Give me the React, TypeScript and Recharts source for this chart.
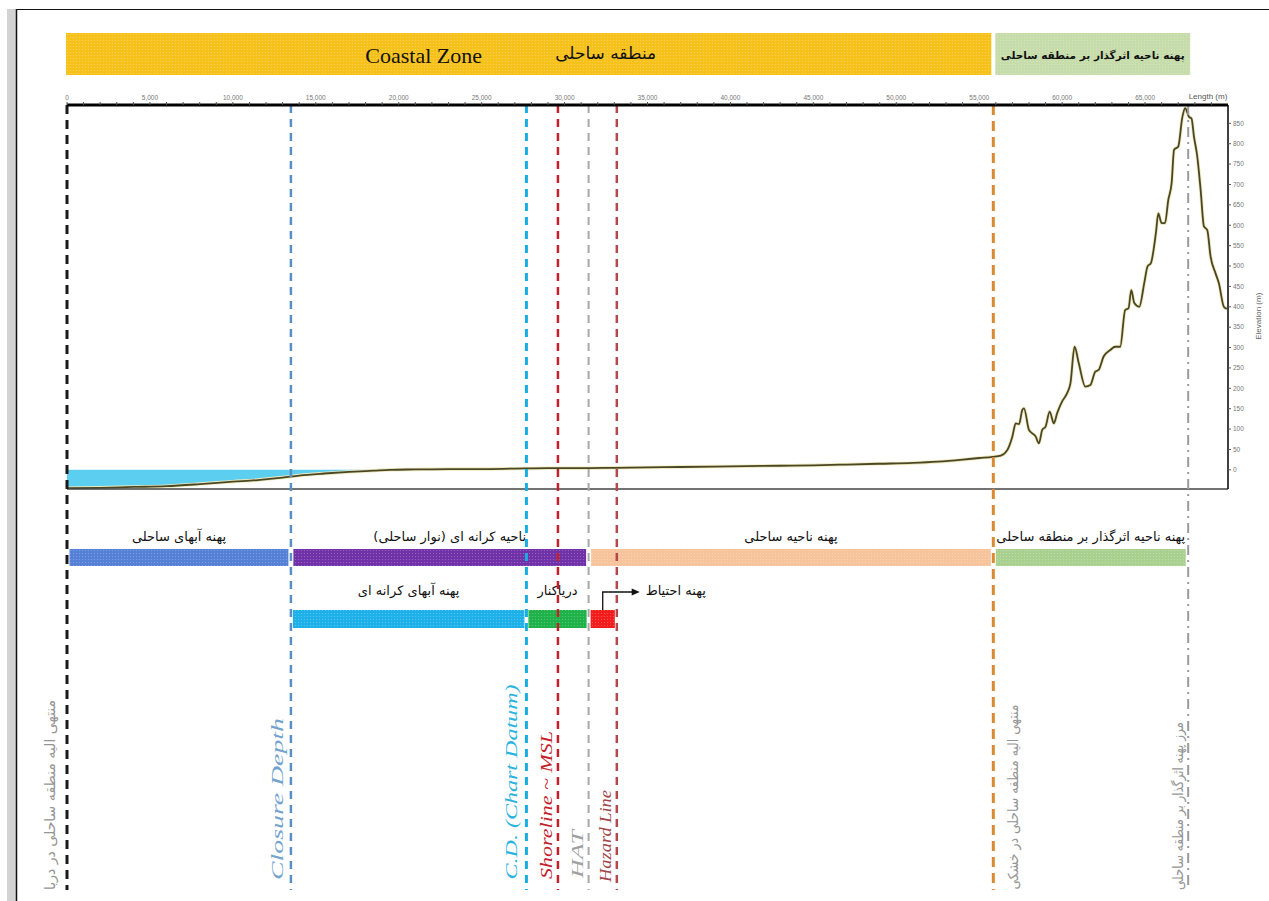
import React from 'react';
import {
  ComposedChart, Line, Area, XAxis, YAxis, ReferenceLine, ReferenceArea, Label,
} from 'recharts';

const WIDTH = 1269;
const HEIGHT = 901;
const Y_MIN = -47;
const Y_MAX = 895;
const MARK_BOTTOM = 890; // the boundary lines run down below the profile

// transect profile: distance from the seaward limit (m) and elevation (m)
const distance = [
  0, 2000, 4000, 6000, 8000, 10000, 11500, 13000, 14000, 15500, 17000, 18500, 19500,
  21000, 23000, 25000, 27000, 29000, 31000, 33000, 35000, 37000, 39000, 41000, 43000,
  45000, 47000, 49000, 51000, 52500, 54000, 55000, 55800, 56300, 56700, 57000, 57200,
  57400, 57600, 57700, 58000, 58400, 58600, 58800, 59000, 59250, 59500, 59700, 60000,
  60300, 60500, 60750, 61000, 61400, 61700, 62000, 62200, 62500, 62900, 63200, 63500,
  63800, 64000, 64170, 64350, 64650, 64950, 65150, 65350, 65650, 65800, 66000, 66200,
  66400, 66600, 66750, 67000, 67250, 67420, 67650, 67800, 67950, 68150, 68350, 68550,
  68750, 68950, 69250, 69450, 69750, 69930,
];
const elevation = [
  -45, -44, -42, -40, -35, -29, -25, -19, -14, -9, -5, -2, 0,
  1, 2, 2, 3, 4, 4, 5, 6, 7, 8, 9, 10,
  11, 13, 15, 17, 20, 25, 29, 32, 35, 49, 82, 114,
  112, 147, 151, 98, 82, 65, 98, 106, 143, 114, 139, 168,
  188, 212, 302, 262, 204, 208, 241, 245, 278, 294, 302, 302,
  392, 396, 441, 409, 400, 458, 499, 507, 580, 629, 605, 605,
  662, 703, 785, 793, 866, 887, 866, 862, 817, 768, 687, 597,
  588, 523, 482, 458, 400, 395,
];

const majorTicks = [0, 5000, 10000, 15000, 20000, 25000, 30000, 35000, 40000, 45000, 50000, 55000, 60000, 65000];
const yTicks = [0, 50, 100, 150, 200, 250, 300, 350, 400, 450, 500, 550, 600, 650, 700, 750, 800, 850];

// boundaries along the transect (m)
const boundaryX = [0, 13500, 27700, 29600, 31450, 33150, 55850, 67600];
const boundaryLabels = [
  'منتهی الیه منطقه ساحلی در دریا',
  'Closure Depth',
  'C.D. (Chart Datum)',
  'Shoreline ~ MSL',
  'HAT',
  'Hazard Line',
  'منتهی الیه منطقه ساحلی در خشکی',
  'مرز پهنه اثرگذار بر منطقه ساحلی',
];

// header bands
const bandStart = [0, 55850];
const bandEnd = [55850, 67600];
const bandLabels = ['منطقه ساحلی', 'پهنه ناحیه اثرگذار بر منطقه ساحلی'];

// first row of zones
const zoneStart = [0, 13500, 31450, 55850];
const zoneEnd = [13500, 31450, 55850, 67600];
const zoneLabels = [
  'پهنه آبهای ساحلی',
  'ناحیه کرانه ای (نوار ساحلی)',
  'پهنه ناحیه ساحلی',
  'پهنه ناحیه اثرگذار بر منطقه ساحلی',
];

// second row of zones
const subStart = [13500, 27700, 31450];
const subEnd = [27700, 31450, 33150];
const subLabels = ['پهنه آبهای کرانه ای', 'دریاکنار', 'پهنه احتیاط'];

const PERSIAN = "'DejaVu Sans', sans-serif";
const SERIF = "'Liberation Serif', 'Times New Roman', serif";

const LINE_STYLES = [
  { stroke: '#1a1a1a', w: 3, dash: '9 6', color: '#959595', dx: -17, cy: 795, len: 190, font: PERSIAN, size: 14, italic: false },
  { stroke: '#5a8ec6', w: 2.5, dash: '8 6', color: '#74a3cf', dx: -13, cy: 799, len: 162, font: SERIF, size: 16, italic: true },
  { stroke: '#1aaee0', w: 3, dash: '8 6', color: '#2ab3e0', dx: -15, cy: 782, len: 195, font: SERIF, size: 16, italic: true },
  { stroke: '#c3202a', w: 2.5, dash: '8 6', color: '#c3202a', dx: -11, cy: 805, len: 148, font: SERIF, size: 16, italic: true },
  { stroke: '#a8a8a8', w: 2, dash: '8 6', color: '#a0a0a0', dx: -11, cy: 854, len: 48, font: SERIF, size: 16, italic: true },
  { stroke: '#b5484c', w: 2.5, dash: '8 6', color: '#a0454a', dx: -11, cy: 836, len: 92, font: SERIF, size: 16, italic: true },
  { stroke: '#d98a32', w: 3, dash: '10 6', color: '#959595', dx: 20, cy: 797, len: 185, font: PERSIAN, size: 14, italic: false },
  { stroke: '#9c9c9c', w: 2, dash: '10 5 2 5', color: '#959595', dx: -10, cy: 806, len: 168, font: PERSIAN, size: 14, italic: false },
];

const BAND_COLORS = ['#f6c11b', '#c6dcaa'];
const ZONE_COLORS = ['#5480d6', '#7131a8', '#f7c39b', '#a9d08e'];
const SUB_COLORS = ['#1db0e9', '#1fb24a', '#f21c1c'];

const rows = distance.map((x, i) => ({
  x,
  elev: elevation[i],
  sea: elevation[i] <= 0 ? [elevation[i], 0] : null,
}));

const xTicks = majorTicks.flatMap((t) => [t, t + 1000, t + 2000, t + 3000, t + 4000]);
const fmtX = (v: number) => (v % 5000 === 0 ? v.toLocaleString('en-US') : '');

const BoundaryMark = (props: any) => {
  const i = props.index;
  const s = LINE_STYLES[i];
  const x = props.x1;
  const persian = s.font === PERSIAN;
  return (
    <g>
      <line x1={x} y1={props.y1} x2={x} y2={MARK_BOTTOM} stroke={s.stroke} strokeWidth={s.w} strokeDasharray={s.dash} />
      <text
        transform={`translate(${x + s.dx},${s.cy}) rotate(-90)`}
        textAnchor="middle"
        dominantBaseline="central"
        textLength={s.len}
        lengthAdjust="spacingAndGlyphs"
        direction={persian ? 'rtl' : 'ltr'}
        fontFamily={s.font}
        fontSize={s.size}
        fontStyle={s.italic ? 'italic' : 'normal'}
        fill={s.color}
      >
        {boundaryLabels[i]}
      </text>
    </g>
  );
};

const TopBand = (props: any) => {
  const i = props.index;
  const x = i === 0 ? props.x - 1 : props.x + 2;
  const w = i === 0 ? props.width - 1 : props.width;
  const cx = x + w / 2;
  return (
    <g>
      {i === 0 && (
        <defs>
          <pattern id="dots" width="3" height="3" patternUnits="userSpaceOnUse">
            <circle cx="1.5" cy="1.5" r="0.6" fill="#ffffff" fillOpacity="0.28" />
          </pattern>
        </defs>
      )}
      <rect x={x} y={33} width={w} height={42} fill={BAND_COLORS[i]} />
      <rect x={x} y={33} width={w} height={42} fill="url(#dots)" />
      {i === 0 ? (
        <>
          <text x={cx - 105} y={55} textAnchor="middle" dominantBaseline="central" fontFamily={SERIF} fontSize={22} fill="#111">
            Coastal Zone
          </text>
          <text x={cx + 77} y={53} textAnchor="middle" dominantBaseline="central" direction="rtl" fontFamily={PERSIAN} fontSize={17} fill="#111">
            {bandLabels[0]}
          </text>
        </>
      ) : (
        <text x={cx} y={55} textAnchor="middle" dominantBaseline="central" direction="rtl" fontFamily={PERSIAN} fontSize={10.5} fontWeight="bold" fill="#111">
          {bandLabels[1]}
        </text>
      )}
    </g>
  );
};

const ZoneBar = (props: any) => {
  const i = props.index;
  const x = props.x + 2.5;
  const w = props.width - 5;
  const cx = x + w / 2 + (i === 1 ? 10 : 0);
  return (
    <g>
      <rect x={x} y={549} width={w} height={17} fill={ZONE_COLORS[i]} />
      <rect x={x} y={549} width={w} height={17} fill="url(#dots)" />
      <text x={cx} y={536} textAnchor="middle" dominantBaseline="central" direction="rtl" fontFamily={PERSIAN} fontSize={13} fill="#111">
        {zoneLabels[i]}
      </text>
    </g>
  );
};

const SubBar = (props: any) => {
  const i = props.index;
  const x = props.x + 2;
  const w = props.width - 4;
  const cx = x + w / 2;
  return (
    <g>
      <rect x={x} y={610} width={w} height={18} fill={SUB_COLORS[i]} />
      <rect x={x} y={610} width={w} height={18} fill="url(#dots)" />
      {i < 2 ? (
        <text x={cx} y={590} textAnchor="middle" dominantBaseline="central" direction="rtl" fontFamily={PERSIAN} fontSize={13} fill="#111">
          {subLabels[i]}
        </text>
      ) : (
        <g>
          <path d={`M${cx},610 L${cx},592 L${cx + 30},592`} fill="none" stroke="#111" strokeWidth={1.3} />
          <polygon points={`${cx + 37},592 ${cx + 29},588.5 ${cx + 29},595.5`} fill="#111" />
          <text x={cx + 73} y={590} textAnchor="middle" dominantBaseline="central" direction="rtl" fontFamily={PERSIAN} fontSize={13} fill="#111">
            {subLabels[i]}
          </text>
        </g>
      )}
    </g>
  );
};

const lengthLabel = (props: any) => {
  const vb = props.viewBox ?? { x: 67, y: 85, width: 1161, height: 20 };
  return (
    <text x={vb.x + vb.width - 20} y={vb.y + vb.height - 6} textAnchor="middle" fontFamily="'Liberation Sans', Arial, sans-serif" fontSize={8} fill="#555">
      Length (m)
    </text>
  );
};

const elevationLabel = (props: any) => {
  const vb = props.viewBox ?? { x: 1228, y: 105, width: 36, height: 384 };
  const cx = vb.x + 30;
  const cy = vb.y + vb.height * 0.55;
  return (
    <text transform={`translate(${cx},${cy}) rotate(-90)`} textAnchor="middle" dominantBaseline="central" fontFamily="'Liberation Sans', Arial, sans-serif" fontSize={8} fill="#666">
      Elevation (m)
    </text>
  );
};

export default function App() {
  return (
    <div style={{ position: 'absolute', left: 0, top: 0, width: WIDTH, height: HEIGHT, background: '#fff' }}>
      <svg width={WIDTH} height={HEIGHT} style={{ position: 'absolute', left: 0, top: 0 }}>
        <rect x={7} y={9} width={9} height={HEIGHT - 9} fill="#d3d3d3" />
        <line x1={16.5} y1={9} x2={16.5} y2={HEIGHT} stroke="#111" strokeWidth={1.5} />
        <line x1={16} y1={9.5} x2={WIDTH} y2={9.5} stroke="#111" strokeWidth={1} />
      </svg>
      <div style={{ position: 'absolute', left: 0, top: 0 }}>
        <ComposedChart width={WIDTH} height={HEIGHT} data={rows} margin={{ top: 85, right: 5, bottom: 412, left: 67 }}>
          <XAxis
            dataKey="x"
            type="number"
            orientation="top"
            domain={[0, 70000]}
            ticks={xTicks}
            interval={0}
            allowDataOverflow
            height={20}
            tickSize={3}
            tickFormatter={fmtX}
            tick={{ fontSize: 6.5, fill: '#777', fontFamily: "'Liberation Sans', Arial, sans-serif" }}
            tickLine={{ stroke: '#555' }}
            axisLine={{ stroke: '#000', strokeWidth: 3 }}
            label={<Label content={lengthLabel} />}
          />
          <YAxis
            type="number"
            orientation="right"
            domain={[Y_MIN, Y_MAX]}
            ticks={yTicks}
            interval={0}
            allowDataOverflow
            width={36}
            tickSize={3}
            tick={{ fontSize: 6.5, fill: '#777', fontFamily: "'Liberation Sans', Arial, sans-serif" }}
            tickLine={{ stroke: '#555' }}
            axisLine={{ stroke: '#000', strokeWidth: 1.5 }}
            label={<Label content={elevationLabel} />}
          />

          {bandStart.map((s, i) => (
            <ReferenceArea key={'band' + i} x1={s} x2={bandEnd[i]} y1={Y_MIN} y2={Y_MAX} ifOverflow="visible"
              shape={(p: any) => <TopBand {...p} index={i} />} />
          ))}
          {zoneStart.map((s, i) => (
            <ReferenceArea key={'zone' + i} x1={s} x2={zoneEnd[i]} y1={Y_MIN} y2={Y_MAX} ifOverflow="visible"
              shape={(p: any) => <ZoneBar {...p} index={i} />} />
          ))}
          {subStart.map((s, i) => (
            <ReferenceArea key={'sub' + i} x1={s} x2={subEnd[i]} y1={Y_MIN} y2={Y_MAX} ifOverflow="visible"
              shape={(p: any) => <SubBar {...p} index={i} />} />
          ))}

          <Area dataKey="sea" type="monotone" stroke="none" fill="#5ccff1" fillOpacity={1} isAnimationActive={false} dot={false} activeDot={false} />
          <Line dataKey="elev" type="monotone" stroke="#efe9bd" strokeWidth={3.5} dot={false} activeDot={false} isAnimationActive={false} />
          <Line dataKey="elev" type="monotone" stroke="#4a4726" strokeWidth={1.8} dot={false} activeDot={false} isAnimationActive={false} />

          <ReferenceLine y={Y_MIN} stroke="#444" strokeWidth={1.5} />
          {boundaryX.map((bx, i) => (
            <ReferenceLine key={'b' + i} x={bx} ifOverflow="visible"
              shape={(p: any) => <BoundaryMark {...p} index={i} />} />
          ))}
        </ComposedChart>
      </div>
    </div>
  );
}
